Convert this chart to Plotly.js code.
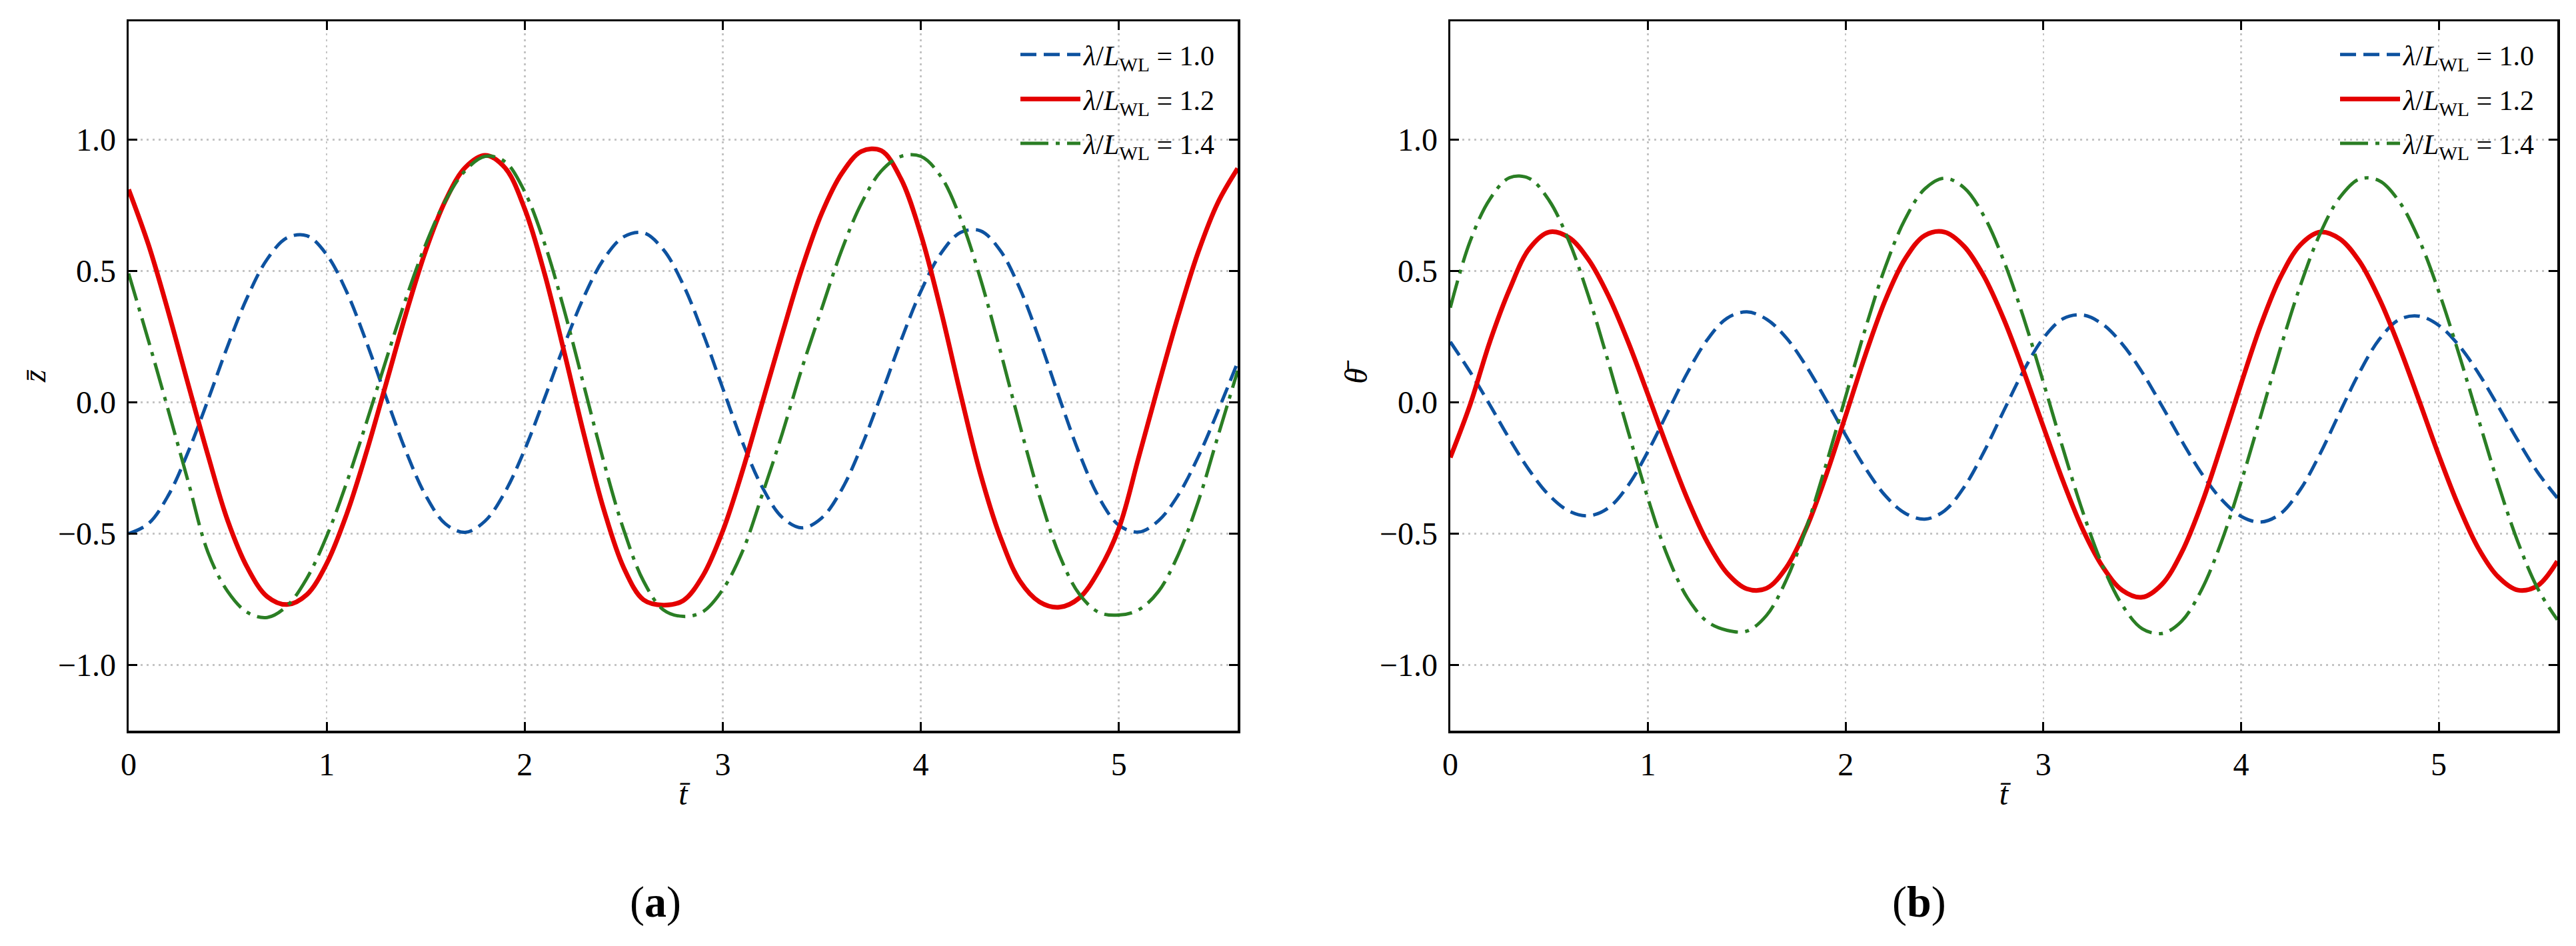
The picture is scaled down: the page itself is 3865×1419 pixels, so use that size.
<!DOCTYPE html>
<html>
<head>
<meta charset="utf-8">
<script src="https://cdn.plot.ly/plotly-3.0.1.min.js"></script>
<style>
  html, body { margin: 0; padding: 0; background: #fff; }
  #chart { width: 3865px; height: 1419px; }
</style>
</head>
<body>
<div id="chart"></div>
<script>
// dimensionless time, shared by all curves
const t_bar = [0, 0.1, 0.2, 0.3, 0.4, 0.5, 0.6, 0.7, 0.8, 0.9,
    1.0, 1.1, 1.2, 1.3, 1.4, 1.5, 1.6, 1.7, 1.8, 1.9,
    2.0, 2.1, 2.2, 2.3, 2.4, 2.5, 2.6, 2.7, 2.8, 2.9,
    3.0, 3.1, 3.2, 3.3, 3.4, 3.5, 3.6, 3.7, 3.8, 3.9,
    4.0, 4.1, 4.2, 4.3, 4.4, 4.5, 4.6, 4.7, 4.8, 4.9,
    5.0, 5.1, 5.2, 5.3, 5.4, 5.5, 5.6];

const ratios = ['1.0', '1.2', '1.4'];

// (a) heave z
const heave_10 = [-0.5, -0.462, -0.355, -0.190, 0.007, 0.214, 0.401, 0.545, 0.626, 0.634,
    0.562, 0.422, 0.231, 0.019, -0.186, -0.355, -0.463, -0.495, -0.452, -0.342,
    -0.180, 0.015, 0.218, 0.403, 0.546, 0.630, 0.645, 0.581, 0.448, 0.263,
    0.053, -0.153, -0.324, -0.438, -0.478, -0.440, -0.333, -0.169, 0.028, 0.235,
    0.422, 0.565, 0.646, 0.653, 0.579, 0.433, 0.236, 0.016, -0.194, -0.363,
    -0.468, -0.494, -0.451, -0.353, -0.209, -0.034, 0.153];
const heave_12 = [0.81, 0.60, 0.345, 0.07, -0.20, -0.45, -0.63, -0.74, -0.77, -0.732,
    -0.614, -0.428, -0.192, 0.071, 0.336, 0.577, 0.768, 0.894, 0.94, 0.893,
    0.736, 0.49, 0.189, -0.125, -0.41, -0.63, -0.752, -0.772, -0.755, -0.66,
    -0.49, -0.26, 0.0, 0.26, 0.51, 0.72, 0.87, 0.955, 0.958, 0.85,
    0.639, 0.354, 0.033, -0.27, -0.51, -0.68, -0.76, -0.78, -0.745, -0.64,
    -0.48, -0.21, 0.065, 0.33, 0.57, 0.76, 0.89];
const heave_14 = [0.49, 0.235, -0.03, -0.30, -0.57, -0.72, -0.80, -0.819, -0.775, -0.67,
    -0.51, -0.308, -0.079, 0.161, 0.394, 0.601, 0.768, 0.882, 0.936, 0.916,
    0.801, 0.605, 0.349, 0.06, -0.229, -0.486, -0.681, -0.79, -0.815, -0.797,
    -0.713, -0.567, -0.35, -0.12, 0.13, 0.357, 0.578, 0.757, 0.88, 0.936,
    0.936, 0.861, 0.701, 0.473, 0.2, -0.087, -0.358, -0.582, -0.73, -0.80,
    -0.81, -0.79, -0.72, -0.58, -0.38, -0.13, 0.12];

// (b) pitch theta
const pitch_10 = [0.23, 0.116, -0.01, -0.14, -0.259, -0.354, -0.414, -0.432, -0.402, -0.316,
    -0.187, -0.037, 0.113, 0.238, 0.32, 0.344, 0.316, 0.245, 0.138, 0.01,
    -0.125, -0.251, -0.355, -0.422, -0.445, -0.413, -0.322, -0.188, -0.032, 0.12,
    0.244, 0.318, 0.332, 0.297, 0.221, 0.114, -0.014, -0.147, -0.27, -0.369,
    -0.434, -0.456, -0.424, -0.332, -0.196, -0.038, 0.115, 0.24, 0.315, 0.328,
    0.293, 0.218, 0.112, -0.014, -0.145, -0.266, -0.364];
const pitch_12 = [-0.21, -0.01, 0.23, 0.43, 0.585, 0.648, 0.627, 0.542, 0.405, 0.229,
    0.029, -0.176, -0.369, -0.532, -0.65, -0.71, -0.708, -0.629, -0.481, -0.28,
    -0.051, 0.181, 0.388, 0.545, 0.635, 0.648, 0.593, 0.479, 0.316, 0.119,
    -0.093, -0.301, -0.485, -0.626, -0.716, -0.742, -0.693, -0.571, -0.388, -0.165,
    0.07, 0.294, 0.477, 0.599, 0.648, 0.622, 0.535, 0.393, 0.212, 0.008,
    -0.201, -0.394, -0.555, -0.664, -0.715, -0.698, -0.605];
const pitch_14 = [0.36, 0.612, 0.773, 0.855, 0.852, 0.768, 0.614, 0.402, 0.152, -0.112,
    -0.366, -0.587, -0.745, -0.835, -0.868, -0.871, -0.811, -0.676, -0.48, -0.239,
    0.022, 0.281, 0.514, 0.696, 0.812, 0.853, 0.816, 0.708, 0.538, 0.322,
    0.076, -0.178, -0.418, -0.622, -0.773, -0.862, -0.88, -0.833, -0.714, -0.533,
    -0.305, -0.051, 0.207, 0.444, 0.642, 0.78, 0.85, 0.843, 0.764, 0.62,
    0.422, 0.189, -0.062, -0.309, -0.531, -0.708, -0.828];

const y_ticks = [-1.0, -0.5, 0.0, 0.5, 1.0];
const y_tick_text = ['\u22121.0', '\u22120.5', '0.0', '0.5', '1.0'];
const x_ticks = [0, 1, 2, 3, 4, 5];

const FONT = 'Liberation Serif, Times New Roman, serif';
const W = 3865, H = 1419;

const styles = [
    {color: '#0d52a0', width: 5, dash: '24px,11px'},
    {color: '#e40000', width: 7, dash: 'solid'},
    {color: '#2a7e24', width: 5, dash: '42px,11px,6px,11px'},
];

function label(r) {
    return '<i>\u03bb</i>/<i>L</i><sub>WL</sub> = ' + r;
}

function make_traces(series, xa, ya, legend) {
    let traces = [];
    for (let i = 0; i < series.length; i++) {
        traces.push({
            x: t_bar,
            y: series[i],
            xaxis: xa,
            yaxis: ya,
            mode: 'lines',
            name: label(ratios[i]),
            line: {color: styles[i].color, width: styles[i].width, dash: styles[i].dash, shape: 'spline', smoothing: 1},
            legend: legend,
            legendgroup: legend + i,
        });
    }
    return traces;
}

function x_axis(domain, anchor) {
    return {
        domain: domain, anchor: anchor,
        range: [0, 5.6], tickvals: x_ticks,
        ticks: 'inside', ticklen: 13, tickwidth: 3, tickcolor: '#000',
        showline: true, linewidth: 3.5, linecolor: '#000', mirror: 'ticks',
        showgrid: true, gridcolor: '#c4c4c4', gridwidth: 2.5, griddash: '3px,6px',
        zeroline: false,
        tickfont: {family: FONT, size: 48, color: '#000'},
        ticklabelstandoff: 6,
        title: {text: '<i>t\u0304</i>', font: {family: FONT, size: 48, color: '#000'}, standoff: 2},
    };
}

function y_axis(domain, anchor, title) {
    return {
        domain: domain, anchor: anchor,
        range: [-1.25, 1.45], tickvals: y_ticks, ticktext: y_tick_text,
        ticks: 'inside', ticklen: 13, tickwidth: 3, tickcolor: '#000',
        showline: true, linewidth: 3.5, linecolor: '#000', mirror: 'ticks',
        showgrid: true, gridcolor: '#c4c4c4', gridwidth: 2.5, griddash: '3px,6px',
        zeroline: false,
        tickfont: {family: FONT, size: 48, color: '#000'},
        ticklabelstandoff: 6,
        title: {text: title, font: {family: FONT, size: 48, color: '#000'}, standoff: 4},
    };
}

function legend_box(x_right) {
    return {
        x: x_right / W, xanchor: 'right',
        y: 1 - 48 / H, yanchor: 'top',
        bgcolor: 'rgba(0,0,0,0)', borderwidth: 0,
        font: {family: FONT, size: 42, color: '#000'},
        itemwidth: 90,
        tracegroupgap: 9,
        traceorder: 'grouped',
    };
}

let traces = []
    .concat(make_traces([heave_10, heave_12, heave_14], 'x', 'y', 'legend'))
    .concat(make_traces([pitch_10, pitch_12, pitch_14], 'x2', 'y2', 'legend2'));

let y_dom = [1 - 1096 / H, 1 - 32 / H];

let layout = {
    width: W, height: H,
    margin: {l: 0, r: 0, t: 0, b: 0},
    paper_bgcolor: '#fff', plot_bgcolor: '#fff',
    font: {family: FONT, color: '#000'},
    xaxis: x_axis([193 / W, 1857 / W], 'y'),
    yaxis: y_axis(y_dom, 'x', '<i>z\u0304</i>'),
    xaxis2: x_axis([2176 / W, 3837 / W], 'y2'),
    yaxis2: y_axis(y_dom, 'x2', '<i>\u03b8\u0304</i>'),
    legend: legend_box(1830),
    legend2: legend_box(3810),
    showlegend: true,
    annotations: [
        {text: '(<b>a</b>)', x: 943 / W, y: 1 - 1392 / H, xref: 'paper', yref: 'paper',
         showarrow: false, font: {family: FONT, size: 66, color: '#000'}},
        {text: '(<b>b</b>)', x: 2922 / W, y: 1 - 1392 / H, xref: 'paper', yref: 'paper',
         showarrow: false, font: {family: FONT, size: 66, color: '#000'}},
    ],
};

Plotly.newPlot('chart', traces, layout, {staticPlot: true, displayModeBar: false});
</script>
</body>
</html>
